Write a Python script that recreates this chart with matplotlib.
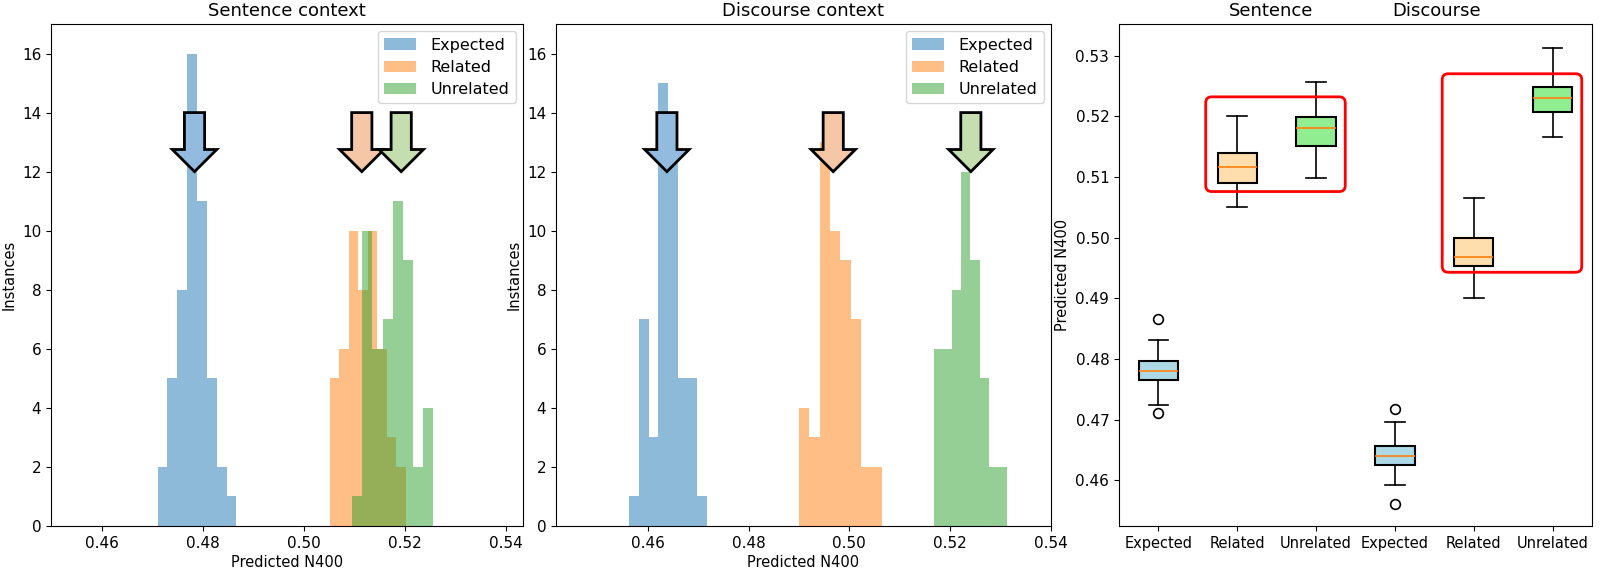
import numpy as np
import matplotlib
matplotlib.use("Agg")
import matplotlib.pyplot as plt
from matplotlib.patches import FancyBboxPatch
from matplotlib.transforms import offset_copy

# ---------------- data ----------------
conditions = ["Expected", "Related", "Unrelated"]
hist_colors = ["tab:blue", "tab:orange", "tab:green"]
arrow_fill = ["#93bbe0", "#f6c7a6", "#c4deb0"]

# Sentence context histograms (counts per bin, bin range)
sent_exp_counts = [2, 5, 8, 16, 11, 5, 2, 1]
sent_exp_range = (0.4711, 0.4867)
sent_rel_counts = [5, 6, 10, 8, 10, 6, 3, 2]
sent_rel_range = (0.5052, 0.5202)
sent_unr_counts = [1, 10, 6, 7, 11, 9, 2, 4]
sent_unr_range = (0.5096, 0.5256)

# Discourse context histograms
disc_exp_counts = [1, 7, 3, 15, 13, 5, 5, 1]
disc_exp_range = (0.4563, 0.4718)
disc_rel_counts = [4, 3, 13, 10, 9, 7, 2, 2]
disc_rel_range = (0.4900, 0.5064)
disc_unr_counts = [6, 6, 8, 12, 9, 5, 2, 2]
disc_unr_range = (0.5167, 0.5313)

# arrow positions (x) marking the condition averages
sent_arrow_x = [0.4784, 0.5115, 0.5193]
disc_arrow_x = [0.4638, 0.4968, 0.5241]
arrow_top, arrow_tip = 14, 12

# Boxplot summary statistics (Sentence E/R/U, Discourse E/R/U)
box_labels = ["Expected", "Related", "Unrelated", "Expected", "Related", "Unrelated"]
box_med = [0.4781, 0.5116, 0.5180, 0.4640, 0.4968, 0.5230]
box_q1 = [0.4765, 0.5090, 0.5151, 0.4625, 0.4954, 0.5207]
box_q3 = [0.47965, 0.5140, 0.5199, 0.4657, 0.4999, 0.5249]
box_whislo = [0.4724, 0.5050, 0.5098, 0.4593, 0.4900, 0.5166]
box_whishi = [0.4832, 0.5201, 0.5256, 0.4696, 0.5065, 0.5313]
box_fliers = [[0.4866, 0.4711], [], [], [0.4717, 0.4562], [], []]
box_colors = ["lightblue", "navajowhite", "lightgreen"] * 2

# red highlight frames (x0, x1, y0, y1) in data units
frames = [(1.6, 3.37, 0.5076, 0.5232), (4.6, 6.37, 0.4943, 0.5270)]

# ---------------- figure ----------------
W, H = 1600, 572
fig = plt.figure(figsize=(W / 100, H / 100), dpi=100)
plt.rcParams["font.family"] = ["DejaVu Sans"]

def px_axes(x0, x1, y_top=24, y_bot=526):
    return fig.add_axes([x0 / W, 1 - y_bot / H, (x1 - x0) / W, (y_bot - y_top) / H])

ax1 = px_axes(51, 523)
ax2 = px_axes(556, 1051)
ax3 = px_axes(1119, 1592)

TICK = 11
LAB = 10.5


def draw_hist(ax, counts_list, ranges, arrow_xs, title, xlim):
    for counts, rng, col, lab in zip(counts_list, ranges, hist_colors, conditions):
        counts = np.asarray(counts, dtype=float)
        edges = np.linspace(rng[0], rng[1], len(counts) + 1)
        centers = 0.5 * (edges[:-1] + edges[1:])
        ax.hist(centers, bins=edges, weights=counts, color=col, alpha=0.5, label=lab)
    for x, fc in zip(arrow_xs, arrow_fill):
        ax.arrow(x, arrow_top, 0, arrow_tip - arrow_top, width=0.004,
                 head_width=0.0088, head_length=0.75, length_includes_head=True,
                 fc=fc, ec="black", lw=2, zorder=5)
    ax.set_xlim(*xlim)
    ax.set_ylim(0, 17)
    ax.set_xticks([0.46, 0.48, 0.50, 0.52, 0.54])
    ax.set_xticklabels(["0.46", "0.48", "0.50", "0.52", "0.54"])
    ax.set_yticks(range(0, 17, 2))
    ax.tick_params(labelsize=TICK)
    ax.set_xlabel("Predicted N400", fontsize=LAB, labelpad=3)
    ax.set_ylabel("Instances", fontsize=LAB, labelpad=4)
    ax.set_title(title, fontsize=13)
    ax.legend(loc="upper right", fontsize=11.5, borderaxespad=0.45,
              labelspacing=0.45, handletextpad=0.9)


draw_hist(ax1, [sent_exp_counts, sent_rel_counts, sent_unr_counts],
          [sent_exp_range, sent_rel_range, sent_unr_range], sent_arrow_x,
          "Sentence context", (0.45, 0.5434))
draw_hist(ax2, [disc_exp_counts, disc_rel_counts, disc_unr_counts],
          [disc_exp_range, disc_rel_range, disc_unr_range], disc_arrow_x,
          "Discourse context", (0.4418, 0.54))

# ---------------- boxplot ----------------
stats = []
for i in range(6):
    stats.append(dict(med=box_med[i], q1=box_q1[i], q3=box_q3[i],
                      whislo=box_whislo[i], whishi=box_whishi[i],
                      fliers=box_fliers[i], label=box_labels[i]))
bp = ax3.bxp(stats, widths=0.5, patch_artist=True,
             boxprops=dict(linewidth=1.5, edgecolor="black"),
             medianprops=dict(color="tab:orange", linewidth=1.2),
             whiskerprops=dict(linewidth=1.2),
             capprops=dict(linewidth=1.2),
             flierprops=dict(marker="o", markerfacecolor="none",
                             markeredgecolor="black", markersize=7, markeredgewidth=1.2))
for patch, c in zip(bp["boxes"], box_colors):
    patch.set_facecolor(c)
ax3.set_xlim(0.5, 6.5)
ax3.set_ylim(0.4525, 0.5352)
ax3.set_yticks([0.46, 0.47, 0.48, 0.49, 0.50, 0.51, 0.52, 0.53])
ax3.set_yticklabels(["0.46", "0.47", "0.48", "0.49", "0.50", "0.51", "0.52", "0.53"])
ax3.tick_params(labelsize=TICK)
ax3.tick_params(axis="x", labelsize=10.5)
ax3.set_ylabel("Predicted N400", fontsize=LAB, labelpad=4)

tr = offset_copy(ax3.transAxes, fig=fig, y=6, units="points")
ax3.text(0.322, 1.0, "Sentence", transform=tr, ha="center", va="baseline", fontsize=13)
ax3.text(0.672, 1.0, "Discourse", transform=tr, ha="center", va="baseline", fontsize=13)

# rounded red frames
fig.canvas.draw()
p0 = ax3.transData.transform((0, 0))
px_per_x = ax3.transData.transform((1, 0))[0] - p0[0]
px_per_y = (ax3.transData.transform((0, 0.5))[1] - ax3.transData.transform((0, 0.49))[1]) / 0.01
aspect = px_per_x / px_per_y
r_px = 6
for (x0, x1, y0, y1) in frames:
    patch = FancyBboxPatch((x0, y0), x1 - x0, y1 - y0,
                           boxstyle=f"round,pad=0,rounding_size={r_px / px_per_x}",
                           mutation_aspect=aspect, fill=False, edgecolor="red",
                           linewidth=2, transform=ax3.transData, zorder=6)
    ax3.add_patch(patch)

fig.savefig("out.png", dpi=100)
